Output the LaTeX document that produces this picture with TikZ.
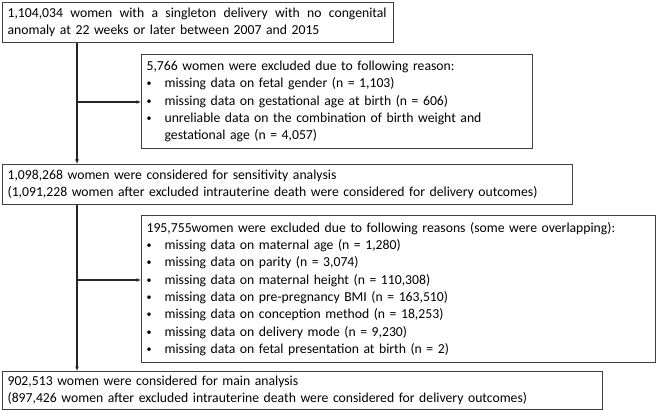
\documentclass[tikz,border=0pt]{standalone}
\usepackage{fontspec}
\setmainfont{Carlito}
\usetikzlibrary{arrows.meta}
\newcommand{\itm}{\makebox[18pt][l]{\raisebox{1pt}{\fontsize{10}{10}\selectfont\textbullet}}}
\begin{document}
\begin{tikzpicture}[x=1pt,y=-1pt,
    box/.style={draw=black!75,line width=1.2pt,anchor=north west,align=left,
      inner xsep=5pt,inner ysep=0pt,font=\fontsize{13.7}{17.3}\selectfont},
    arr/.style={draw=black!85,line width=1.1pt,-{Latex[length=4.5pt,width=4pt]}}]
  \useasboundingbox (0,0) rectangle (660,411);

  % Draw boxes
  \node[box,text width=381pt,minimum height=40pt] (cohort) at (2,2)
    {\hbox to 379pt{1,104,034\hfill women\hfill with\hfill a\hfill singleton\hfill
      delivery\hfill with\hfill no\hfill congenital}
     anomaly at 22 weeks or later between 2007 and 2015};
  \node[box,text width=381pt,minimum height=94pt] (excl1) at (141,54)
    {5,766 women were excluded due to following reason:\\
     \itm missing data on fetal gender (n = 1,103)\\
     \itm missing data on gestational age at birth (n = 606)\\
     \itm unreliable data on the combination of birth weight and\\
     \hspace*{18pt}gestational age (n = 4,057)};
  \node[box,text width=560pt,minimum height=40pt] (sens) at (2,164)
    {1,098,268 women were considered for sensitivity analysis\\
     (1,091,228 women after excluded intrauterine death were considered for delivery outcomes)};
  \node[box,text width=504pt,minimum height=147pt] (excl2) at (141,215)
    {195,755women were excluded due to following reasons (some were overlapping):\\
     \itm missing data on maternal age (n = 1,280)\\
     \itm missing data on parity (n = 3,074)\\
     \itm missing data on maternal height (n = 110,308)\\
     \itm missing data on pre-pregnancy BMI (n = 163,510)\\
     \itm missing data on conception method (n = 18,253)\\
     \itm missing data on delivery mode (n = 9,230)\\
     \itm missing data on fetal presentation at birth (n = 2)};
  \node[box,text width=590pt,minimum height=38pt] (main) at (2,371)
    {902,513 women were considered for main analysis\\
     (897,426 women after excluded intrauterine death were considered for delivery outcomes)};

  % Draw connectors
  \coordinate (spine) at (77,0);
  \coordinate (tap1) at (77,102);
  \coordinate (tap2) at (77,280);
  \draw[arr] (cohort.south -| spine) -- (sens.north -| spine);
  \draw[arr] (sens.south -| spine) -- (main.north -| spine);
  \draw[arr] (tap1) -- (tap1 -| excl1.west);
  \draw[arr] (tap2) -- (tap2 -| excl2.west);
\end{tikzpicture}
\end{document}
